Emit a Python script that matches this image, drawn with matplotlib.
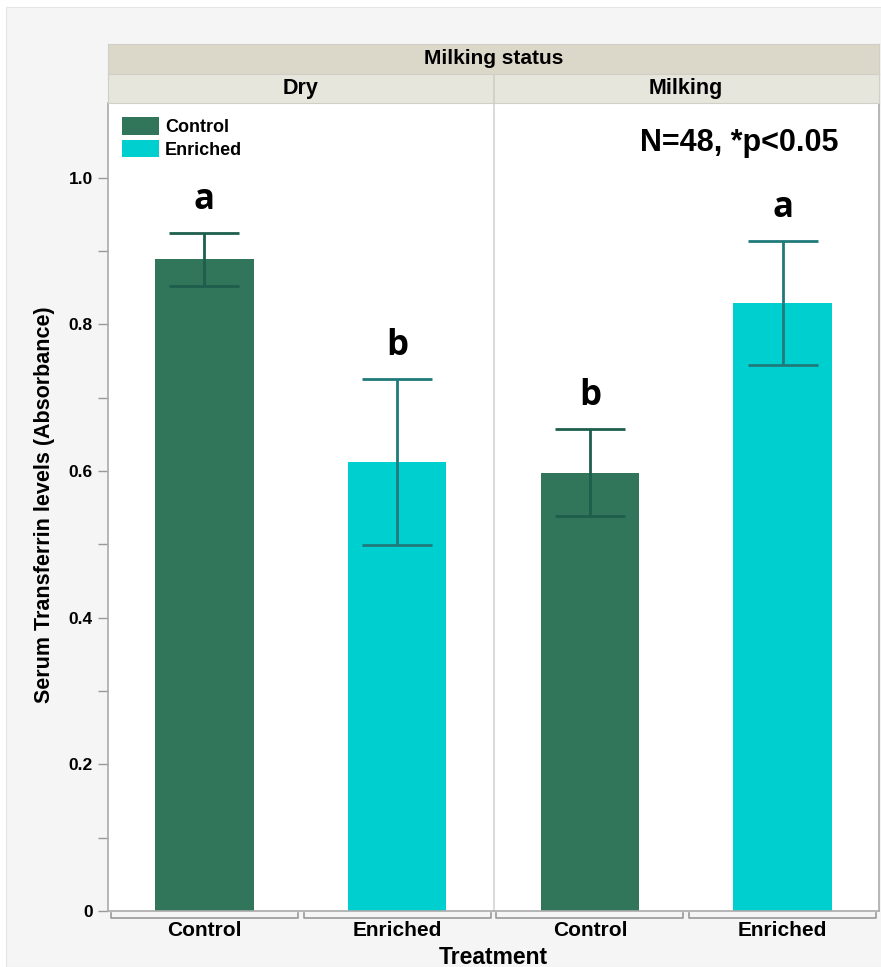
import matplotlib.pyplot as plt
from matplotlib.patches import Rectangle, Patch
from matplotlib.transforms import blended_transform_factory
import numpy as np

panels = ["Dry", "Milking"]
treatments = ["Control", "Enriched", "Control", "Enriched"]
means = [0.889, 0.612, 0.598, 0.829]
err_hi = [0.925, 0.726, 0.658, 0.914]
err_lo = [0.853, 0.499, 0.539, 0.744]
letters = ["a", "b", "b", "a"]

c_control = "#31765a"
c_enriched = "#00cfcf"
e_control = "#1d5e4c"
e_enriched = "#1f7b7b"

W, H = 881, 967
fig = plt.figure(figsize=(W / 100, H / 100), dpi=100, facecolor="white")
fig.patches.append(Rectangle((6 / W, 0), 1, (H - 7) / H, transform=fig.transFigure,
                             facecolor="#f5f5f5", edgecolor="#e6e6e6", lw=0.8, zorder=-10))

ax = fig.add_axes([108 / W, 56 / H, 771 / W, 808 / H])
ax.set_facecolor("white")
x = np.arange(4)
colors = [c_control, c_enriched, c_control, c_enriched]
ecolors = [e_control, e_enriched, e_control, e_enriched]
ax.bar(x, means, width=0.51, color=colors, zorder=2)
for i in range(4):
    ax.errorbar(x[i], means[i], yerr=[[means[i] - err_lo[i]], [err_hi[i] - means[i]]],
                fmt="none", ecolor=ecolors[i], elinewidth=2, capsize=25, capthick=2, zorder=3)
    ax.text(x[i], err_hi[i] + 0.02, letters[i], ha="center", va="bottom",
            fontsize=25, fontweight="bold", family="Open Sans")

ax.set_xlim(-0.5, 3.5)
ax.set_ylim(0, 1.102)
ax.axvline(1.5, color="#d4d4d4", lw=1.2, zorder=1)

ax.set_yticks([0, 0.2, 0.4, 0.6, 0.8, 1.0])
ax.set_yticklabels(["0", "0.2", "0.4", "0.6", "0.8", "1.0"])
ax.set_yticks(np.arange(0.1, 1.1, 0.2), minor=True)
ax.tick_params(axis="y", which="both", length=7, color="#999999", width=1, pad=4)
for lab in ax.get_yticklabels():
    lab.set_fontweight("bold")
    lab.set_fontsize(12.5)
    lab.set_family("Liberation Sans")

ax.set_xticks(x)
ax.set_xticklabels(treatments, fontweight="bold", fontsize=15, family="Liberation Sans")
ax.tick_params(axis="x", length=0, pad=7)

for s in ["left", "bottom", "right"]:
    ax.spines[s].set_color("#aaaaaa")
    ax.spines[s].set_linewidth(1.2)
ax.spines["top"].set_visible(False)

# grouping brackets under the axis
tr = blended_transform_factory(ax.transData, ax.transAxes)
yt, yb = -2 / 808, -7 / 808
for i in range(4):
    l, r = x[i] - 0.485, x[i] + 0.485
    ax.plot([l, l, r, r], [yt, yb, yb, yt], color="#999999", lw=1.2,
            transform=tr, clip_on=False)

handles = [Patch(facecolor=c_control), Patch(facecolor=c_enriched)]
leg = ax.legend(handles, ["Control", "Enriched"], loc="upper left", frameon=False,
                prop={"weight": "bold", "size": 13, "family": "Liberation Sans"},
                handlelength=2.0, handleheight=1.1, handletextpad=0.35, labelspacing=0.2,
                borderaxespad=0.5, borderpad=0.3)

ax.text(0.947, 0.950, "N=48, *p<0.05", transform=ax.transAxes, ha="right", va="center",
        fontsize=22, fontweight="bold", family="Liberation Sans")

# header strips
h1 = fig.add_axes([108 / W, (H - 74) / H, 771 / W, 30 / H])
h1.set_facecolor("#dbd8c9")
h1.set_xticks([]); h1.set_yticks([])
for s in h1.spines.values():
    s.set_color("#d0d0c8")
h1.text(0.5, 0.5, "Milking status", ha="center", va="center", fontsize=15,
        fontweight="bold", family="Liberation Sans", transform=h1.transAxes)

h2 = fig.add_axes([108 / W, (H - 103) / H, 771 / W, 29 / H])
h2.set_facecolor("#e7e6dd")
h2.set_xlim(0, 2); h2.set_ylim(0, 1)
h2.set_xticks([]); h2.set_yticks([])
for s in h2.spines.values():
    s.set_color("#d0d0c8")
h2.axvline(1, color="#cfcfc6", lw=1.2)
for j, p in enumerate(panels):
    h2.text(j + 0.5, 0.5, p, ha="center", va="center", fontsize=15.5,
            fontweight="bold", family="Liberation Sans")

fig.text(45 / W, (H - 505) / H, "Serum Transferrin levels (Absorbance)", rotation=90,
         ha="center", va="center", fontsize=15.5, fontweight="bold", family="Liberation Sans")
fig.text((108 + 771 / 2) / W, (H - 957) / H, "Treatment", ha="center", va="center",
         fontsize=16.5, fontweight="bold", family="Liberation Sans")

fig.savefig("out.png", dpi=100, facecolor=fig.get_facecolor())
